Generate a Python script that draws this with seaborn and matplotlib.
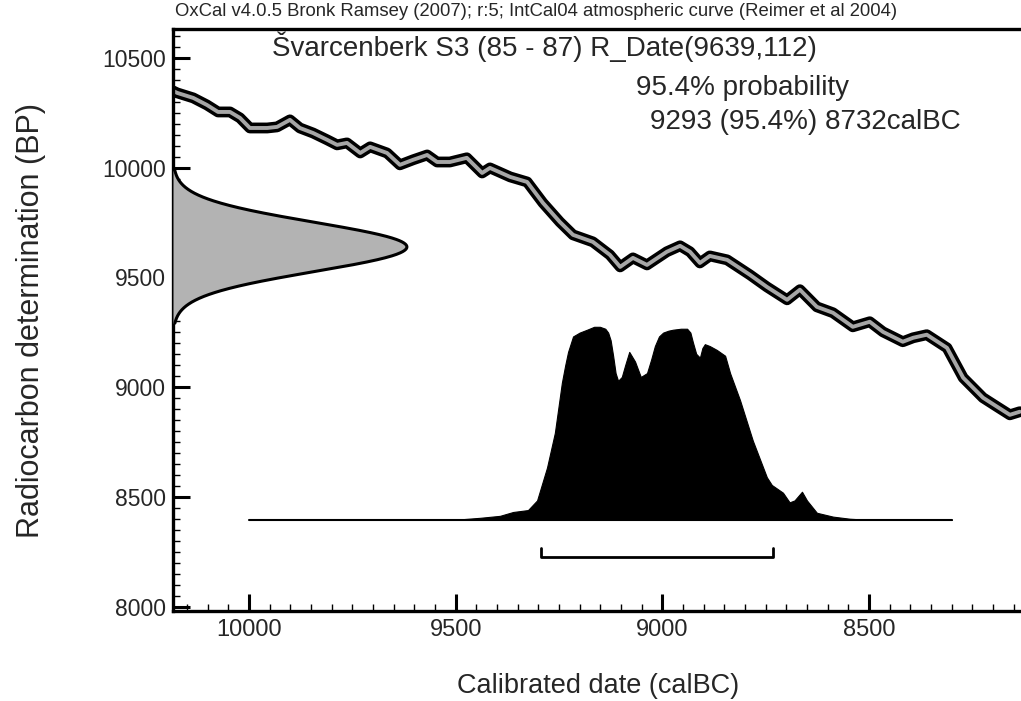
import numpy as np
import matplotlib
matplotlib.use("Agg")
import matplotlib.pyplot as plt
from matplotlib.ticker import MultipleLocator
import seaborn as sns

# IntCal04 calibration curve (calBC, BP)
curve_bc = [10184, 10174, 10135, 10102, 10075, 10046, 10022, 9998, 9956, 9932, 9901,
            9877, 9845, 9811, 9787, 9763, 9731, 9707, 9666, 9635, 9603, 9569, 9545,
            9514, 9473, 9436, 9417, 9368, 9327, 9289, 9248, 9216, 9168, 9127, 9102,
            9071, 9037, 8989, 8957, 8933, 8909, 8885, 8843, 8788, 8747, 8698, 8667,
            8626, 8587, 8539, 8498, 8466, 8418, 8393, 8360, 8311, 8272, 8224, 8190,
            8159, 8135]
curve_bp = [10350, 10341, 10318, 10286, 10254, 10254, 10227, 10181, 10181, 10186, 10218,
            10181, 10158, 10127, 10104, 10113, 10067, 10095, 10067, 10013, 10036, 10058,
            10026, 10026, 10045, 9976, 9999, 9958, 9935, 9840, 9753, 9694, 9662, 9603,
            9548, 9589, 9557, 9617, 9644, 9617, 9566, 9598, 9580, 9512, 9457, 9398,
            9444, 9366, 9339, 9275, 9298, 9252, 9207, 9225, 9239, 9179, 9043, 8952,
            8911, 8874, 8888]

# Radiocarbon measurement
r_mean, r_sigma = 9639, 112

# Calibrated probability distribution (relative density)
post_bc = [10000, 9500, 9440, 9393, 9361, 9325, 9303, 9279, 9260, 9243, 9235, 9228,
           9216, 9200, 9182, 9165, 9151, 9138, 9131, 9125, 9119, 9113, 9107, 9098,
           9090, 9080, 9066, 9052, 9037, 9027, 9018, 9008, 8998, 8985, 8974, 8955,
           8940, 8932, 8926, 8918, 8909, 8903, 8897, 8885, 8868, 8848, 8836, 8812,
           8781, 8747, 8735, 8708, 8692, 8680, 8662, 8650, 8626, 8587, 8546, 8505,
           8300]
post_rel = [0, 0, 0.01, 0.02, 0.04, 0.05, 0.10, 0.27, 0.45, 0.71, 0.80, 0.87,
            0.95, 0.97, 0.985, 1.00, 1.00, 0.99, 0.97, 0.93, 0.85, 0.76, 0.72, 0.74,
            0.80, 0.87, 0.82, 0.74, 0.76, 0.83, 0.90, 0.95, 0.97, 0.98, 0.985, 0.99,
            0.99, 0.97, 0.92, 0.86, 0.84, 0.89, 0.91, 0.90, 0.88, 0.85, 0.76, 0.62,
            0.41, 0.22, 0.18, 0.14, 0.09, 0.10, 0.145, 0.10, 0.036, 0.016, 0.005, 0,
            0]

# 95.4% range
range_from, range_to = 9293, 8732

x_ticks = [10000, 9500, 9000, 8500]
y_ticks = [8000, 8500, 9000, 9500, 10000, 10500]

sns.set_style("white")
plt.rcParams["font.family"] = ["Liberation Sans", "DejaVu Sans"]

W, H = 1021, 701
fig = plt.figure(figsize=(W / 100, H / 100), dpi=100)
ax = fig.add_axes([173 / W, 1 - 611 / H, 1 - 173 / W, (611 - 29) / H])

x_left, x_right = 10184, 8132
ax.set_xlim(x_left, x_right)
ax.set_ylim(7980, 10632)

# calibration curve band
sns.lineplot(x=curve_bc, y=curve_bp, sort=False, estimator=None, ax=ax,
             color="black", lw=7.8, solid_joinstyle="round", solid_capstyle="round")
sns.lineplot(x=curve_bc, y=curve_bp, sort=False, estimator=None, ax=ax,
             color="#a6a6a6", lw=2.8, solid_joinstyle="round")

# radiocarbon date on the y axis
bp = np.linspace(r_mean - 3.1 * r_sigma, r_mean + 3.1 * r_sigma, 400)
dens = np.exp(-0.5 * ((bp - r_mean) / r_sigma) ** 2)
gx = x_left - 566 * dens
ax.fill_betweenx(bp, x_left, gx, color="#b3b3b3", lw=0, zorder=3)
ax.plot(gx, bp, color="black", lw=2.2, zorder=4)

# calibrated distribution
base = 8396
scale = 879
py = base + scale * np.array(post_rel)
ax.fill_between(post_bc, base, py, color="black", lw=0.8, edgecolor="black", zorder=3)
ax.plot([post_bc[0], post_bc[-1]], [base, base], color="black", lw=1.5, zorder=3)

# 95.4% range bracket
by, bt = 8228, 8269
ax.plot([range_from, range_from, range_to, range_to], [bt, by, by, bt],
        color="black", lw=2, zorder=3)

# axes styling
ax.set_xticks(x_ticks)
ax.set_yticks(y_ticks)
ax.xaxis.set_minor_locator(MultipleLocator(50))
ax.yaxis.set_minor_locator(MultipleLocator(50))
ax.tick_params(axis="both", which="major", direction="in", length=12, width=2.2,
               color="black")
ax.tick_params(axis="both", which="minor", direction="in", length=5, width=1,
               color="black")
ax.tick_params(axis="x", which="both", bottom=True, top=False, pad=6)
ax.tick_params(axis="y", which="both", left=True, right=False, pad=5)
for lab in ax.get_yticklabels():
    lab.set_fontsize(16.5)
for lab in ax.get_xticklabels():
    lab.set_fontsize(17)

for side in ["left", "bottom", "top"]:
    ax.spines[side].set_linewidth(2.4)
    ax.spines[side].set_color("black")
ax.spines["right"].set_visible(False)
ax.grid(False)
ax.set_xlabel("")
ax.set_ylabel("")

fig.text(31 / W, 1 - 320 / H, "Radiocarbon determination (BP)", rotation=90,
         fontsize=22, ha="center", va="center")
fig.text(598 / W, 1 - 686 / H, "Calibrated date (calBC)", fontsize=19.5,
         ha="center", va="center")

fig.text(175 / W, 1 - 11 / H,
         "OxCal v4.0.5 Bronk Ramsey (2007); r:5; IntCal04 atmospheric curve (Reimer et al 2004)",
         fontsize=13.3, ha="left", va="center")

fig.text(272 / W, 1 - 47 / H, "Švarcenberk S3 (85 - 87) R_Date(9639,112)",
         fontsize=20, ha="left", va="center")
fig.text(636 / W, 1 - 88 / H, "95.4% probability", fontsize=20, ha="left", va="center")
fig.text(650 / W, 1 - 122 / H, "9293 (95.4%) 8732calBC", fontsize=20,
         ha="left", va="center")

fig.savefig("out.png", dpi=100)
